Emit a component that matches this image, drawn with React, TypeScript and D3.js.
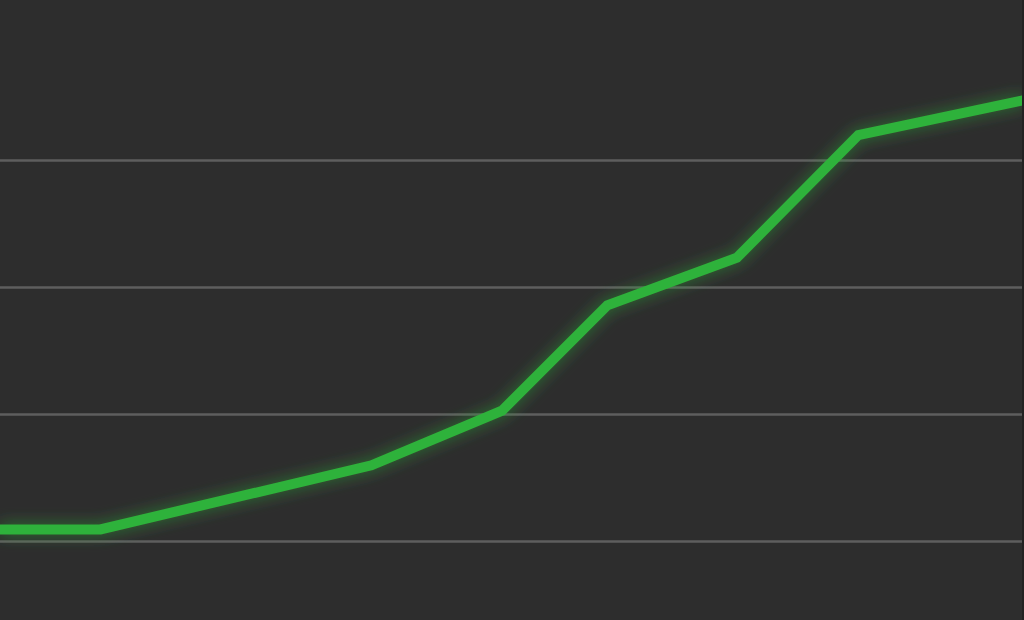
import React, { useEffect, useRef } from 'react';
import * as d3 from 'd3';

// x positions in arbitrary time units, y values on the gridline scale
const xValues = [0, 10, 37, 50, 60.5, 73.4, 85.5, 102];
const yValues = [21.9, 21.9, 32, 40.6, 57.2, 64.7, 84, 89.5];
const gridValues = [20, 40, 60, 80];

const WIDTH = 1024;
const HEIGHT = 620;

const App: React.FC = () => {
  const svgRef = useRef<SVGSVGElement>(null);

  useEffect(() => {
    if (!svgRef.current) return;
    const svg = d3.select(svgRef.current);
    svg.selectAll('*').remove();

    const xScale = d3.scaleLinear().domain([0, 102]).range([0, WIDTH]);
    const yScale = d3.scaleLinear().domain([20, 80]).range([541.5, 160.5]);

    // Background
    svg.append('rect')
      .attr('width', WIDTH)
      .attr('height', HEIGHT)
      .attr('fill', '#2d2d2d');

    // Glow filter
    const defs = svg.append('defs');
    const filter = defs.append('filter')
      .attr('id', 'glow')
      .attr('x', '-20%')
      .attr('y', '-50%')
      .attr('width', '140%')
      .attr('height', '200%');
    filter.append('feGaussianBlur')
      .attr('in', 'SourceGraphic')
      .attr('stdDeviation', 8)
      .attr('result', 'blur');
    filter.append('feComponentTransfer')
      .attr('in', 'blur')
      .attr('result', 'faded')
      .append('feFuncA')
      .attr('type', 'linear')
      .attr('slope', 0.6);
    const merge = filter.append('feMerge');
    merge.append('feMergeNode').attr('in', 'faded');
    merge.append('feMergeNode').attr('in', 'SourceGraphic');

    // Grid lines
    svg.append('g')
      .selectAll('line')
      .data(gridValues)
      .join('line')
      .attr('x1', 0)
      .attr('x2', WIDTH)
      .attr('y1', d => yScale(d))
      .attr('y2', d => yScale(d))
      .attr('stroke', '#5e5e5e')
      .attr('stroke-width', 2.5);

    const points = xValues.map((x, i) => [x, yValues[i]] as [number, number]);

    const line = d3.line<[number, number]>()
      .x(d => xScale(d[0]))
      .y(d => yScale(d[1]));

    svg.append('path')
      .datum(points)
      .attr('fill', 'none')
      .attr('stroke', '#2eb23b')
      .attr('stroke-width', 10)
      .attr('stroke-linejoin', 'miter')
      .attr('filter', 'url(#glow)')
      .attr('d', line);

    // Thin darker strip at the right edge
    svg.append('rect')
      .attr('x', WIDTH - 2)
      .attr('width', 2)
      .attr('height', HEIGHT)
      .attr('fill', '#222222');
  }, []);

  return (
    <div style={{ position: 'fixed', left: 0, top: 0, width: WIDTH, height: HEIGHT, background: '#2d2d2d' }}>
      <svg ref={svgRef} width={WIDTH} height={HEIGHT} style={{ display: 'block' }} />
    </div>
  );
};

export default App;
